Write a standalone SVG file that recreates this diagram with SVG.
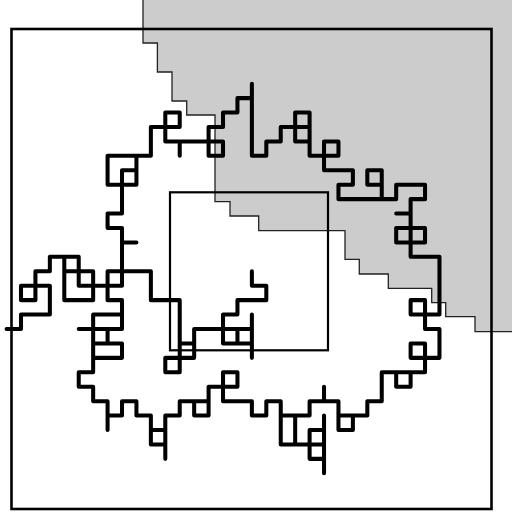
<svg xmlns="http://www.w3.org/2000/svg" width="512" height="513" viewBox="0 0 512 513">
<style>
.bound{fill:none;stroke:#000;stroke-linejoin:miter}
</style>
<rect width="512" height="513" fill="#fff"/>
<path id="region" d="M143 -2V43H157.4V72H172V101H186.7V115H215V201.7H230V216H258.7V230.7H345V259.3H359.3V274H388.3V288.3H431.7V302.7H445.7V316.7H475V331.7H514V-2Z" fill="#ccc" stroke="#222" stroke-width="1.3"/>
<rect id="outer" class="bound" x="11.5" y="29" width="480" height="480" stroke-width="2.6"/>
<rect id="inner" class="bound" x="170" y="192.3" width="158" height="158" stroke-width="2.2"/>
<g id="connectors" transform="translate(21 329) scale(14.43 -14.43)">
<path fill="none" stroke="#000" stroke-width="0.28" stroke-linecap="round" stroke-linejoin="round" d="M-1 0H0V1H2V3H0V2H1V4H2V5H4V3H7V4H6V2H7V0H4M3 5V2H5V4H3M5 1H7M5 1V-3H4V-4H5V-5H6V-7M6 0V-1M5 -1H7V-2H5M6 -6H7V-5H8V-6H9V-8H10V-7H9M10 -6V-9M10 -6H11V-5H13V-6H12V-5M13 -6V-4H15V-3H14V-5H16V-6H17V-5H18V-8H21M19 -6V-8M18 -6H20V-5M20 -9V-7H21M20 -9H21M21 -4V-5M21 -6V-10M20 -5H22V-7H23V-6H22M23 -6H24V-5H25V-3H28V-2M26 -3V-4H27V-3M27 -1H28V-2M27 -1V-2H29V0H28V2H27V1H29V5H27V9H28V10H26V9H22V10H23V11H21V13H22V12H20V15H19V13H20M25 9V11H24V10H25M26 8H27M26 7H28V6H26V7M20 14H18V13H17V12H16V17M16 16H15V15H14V14H13V12H14V13H10V15H11V14H9V12H6V10H8V12M8 11H7V8H6V7H7V3M7 6H8M7 4H9V2H11V-3H10V-2H12V0H16M11 -1H12M14 1V-1H16M15 0V-1M16 1V-2M14 1H15V2H17V3H16V4M11 13V12"/>
</g>
</svg>
